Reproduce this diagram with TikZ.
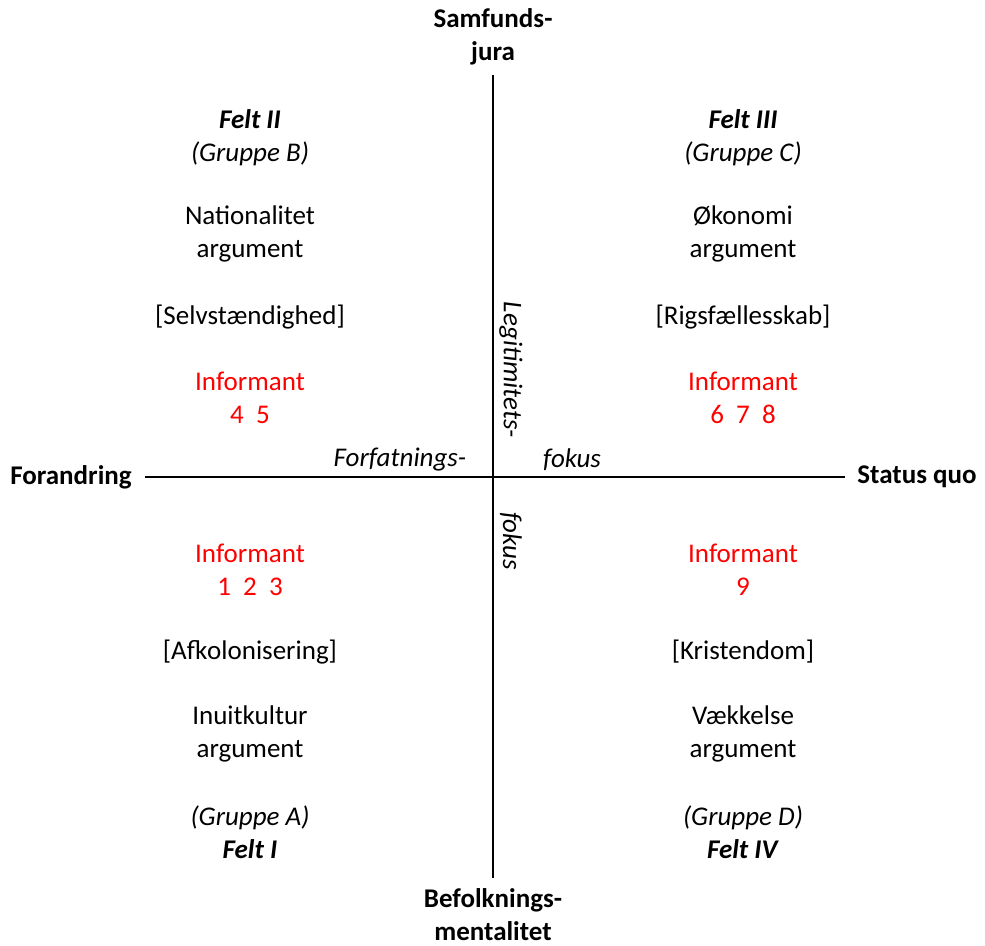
\documentclass[tikz,border=0pt]{standalone}
\usepackage{fontspec}
\setmainfont{Carlito}

\def\fs{\fontsize{13.5}{16.4}\selectfont}

\begin{document}
\begin{tikzpicture}[x=0.5pt,y=-0.5pt,
  txt/.style={align=center,font=\fs,inner sep=0pt},
  inf/.style={txt,text=red},
  ttl/.style={txt,font=\fs\bfseries},
  grp/.style={txt,font=\fs\itshape},
  fok/.style={txt,font=\fs\itshape}]
\useasboundingbox (0,0) rectangle (985,946);
% akser
\coordinate (N) at (493,75);
\coordinate (S) at (493,878);
\coordinate (W) at (145,477);
\coordinate (E) at (845,477);
\draw[line width=1pt] (W) -- (E);
\draw[line width=1pt] (N) -- (S);
\node[ttl] (samf) at (493,37) {Samfunds-\\jura};
\node[ttl] (befolk) at (493,915) {Befolknings-\\mentalitet};
\node[ttl] (forandr) at (71,477) {Forandring};
\node[ttl] (status) at (917,477) {Status quo};
% fokus
\node[fok,rotate=-90] (legit) at (511,370) {Legitimitets-};
\node[fok,rotate=-90] (fok1) at (511,541) {fokus};
\node[fok] (forfat) at (400,460) {Forfatnings-};
\node[fok] (fok2) at (572,460) {fokus};
% Felt II
\node[txt] (felt2) at (250,138) {\textbf{\textit{Felt II}}\\\textit{(Gruppe B)}};
\node[txt] (arg2) at (250,234) {Nationalitet\\argument};
\node[txt] (selv) at (250,317) {[Selvstændighed]};
\node[inf] (inf2) at (250,398) {Informant\\4\ \ 5};
% Felt III
\node[txt] (felt3) at (743,138) {\textbf{\textit{Felt III}}\\\textit{(Gruppe C)}};
\node[txt] (arg3) at (743,234) {Økonomi\\argument};
\node[txt] (rigs) at (743,317) {[Rigsfællesskab]};
\node[inf] (inf3) at (743,398) {Informant\\6\ \ 7\ \ 8};
% Felt I
\node[inf] (inf1) at (250,570) {Informant\\1\ \ 2\ \ 3};
\node[txt] (afk) at (250,652) {[Afkolonisering]};
\node[txt] (arg1) at (250,734) {Inuitkultur\\argument};
\node[txt] (felt1) at (250,832) {\textit{(Gruppe A)}\\\textbf{\textit{Felt I}}};
% Felt IV
\node[inf] (inf4) at (743,570) {Informant\\9};
\node[txt] (krist) at (743,652) {[Kristendom]};
\node[txt] (arg4) at (743,734) {Vækkelse\\argument};
\node[txt] (felt4) at (743,832) {\textit{(Gruppe D)}\\\textbf{\textit{Felt IV}}};
\end{tikzpicture}
\end{document}
